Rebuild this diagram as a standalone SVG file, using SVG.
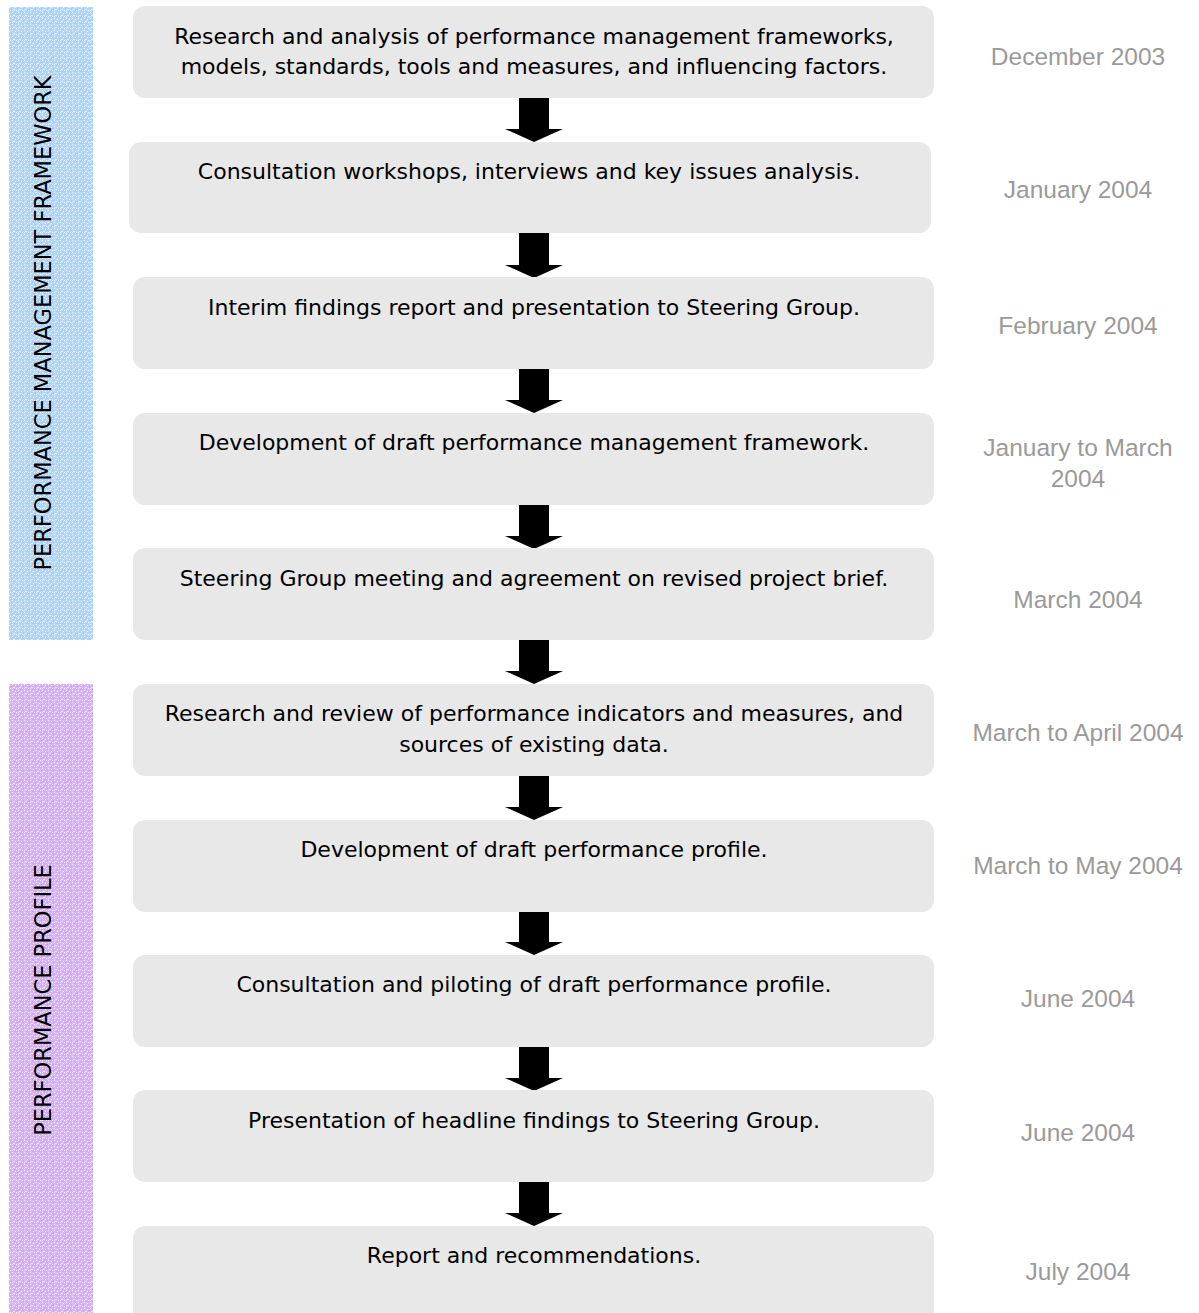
<svg xmlns="http://www.w3.org/2000/svg" width="1199" height="1313" viewBox="0 0 1199 1313">
<style>
.box{fill:#e8e8e8}
.t{font-family:"DejaVu Sans",sans-serif;font-size:22px;fill:#000;text-anchor:middle}
.d{font-family:"Liberation Sans",Arial,sans-serif;font-size:24.5px;fill:#9a9a9a;text-anchor:middle}
.v{font-family:"DejaVu Sans",sans-serif;font-size:22.5px;fill:#000;text-anchor:middle}
.arr{fill:#000}
</style>
<defs>
<pattern id="pb" width="6" height="6" patternUnits="userSpaceOnUse">
<rect width="6" height="6" fill="#b4d7f8"/>
<rect x="0" y="0" width="1" height="1" fill="#eef6ff"/>
<rect x="3" y="1" width="1" height="1" fill="#ffffff"/>
<rect x="1" y="3" width="2" height="1" fill="#dcedff"/>
<rect x="4" y="4" width="1" height="1" fill="#ffffff"/>
<rect x="5" y="2" width="1" height="1" fill="#98c8f4"/>
<rect x="2" y="5" width="1" height="1" fill="#98c8f4"/>
<rect x="0" y="4" width="1" height="1" fill="#e6f2ff"/>
</pattern>
<pattern id="pp" width="6" height="6" patternUnits="userSpaceOnUse">
<rect width="6" height="6" fill="#d8b4f6"/>
<rect x="0" y="0" width="1" height="1" fill="#f6eeff"/>
<rect x="3" y="1" width="1" height="1" fill="#ffffff"/>
<rect x="1" y="3" width="2" height="1" fill="#eddcff"/>
<rect x="4" y="4" width="1" height="1" fill="#ffffff"/>
<rect x="5" y="2" width="1" height="1" fill="#c698f2"/>
<rect x="2" y="5" width="1" height="1" fill="#c698f2"/>
<rect x="0" y="4" width="1" height="1" fill="#f0e6ff"/>
</pattern>
<path id="arrow" d="M519,0 H549 V33 H563 L534,46 L505,33 H519 Z"/>
</defs>

<g id="phase-framework">
<rect x="9" y="7" width="84" height="633" fill="url(#pb)"/>
<text class="v" transform="translate(51,323) rotate(-90)">PERFORMANCE MANAGEMENT FRAMEWORK</text>
</g>
<g id="phase-profile">
<rect x="9" y="684" width="84" height="629" fill="url(#pp)"/>
<text class="v" transform="translate(51,1000) rotate(-90)">PERFORMANCE PROFILE</text>
</g>

<g id="connectors" class="arr">
<use href="#arrow" y="96"/>
<use href="#arrow" y="232"/>
<use href="#arrow" y="367"/>
<use href="#arrow" y="503"/>
<use href="#arrow" y="638"/>
<use href="#arrow" y="774"/>
<use href="#arrow" y="909"/>
<use href="#arrow" y="1045"/>
<use href="#arrow" y="1180"/>
</g>

<g id="step1"><rect class="box" x="133" y="6" width="801" height="92" rx="12"/>
<text class="t" x="534" y="44">Research and analysis of performance management frameworks,</text>
<text class="t" x="534" y="74">models, standards, tools and measures, and influencing factors.</text>
<text class="d" x="1078" y="65">December 2003</text></g>

<g id="step2"><rect class="box" x="129" y="142" width="802" height="91" rx="12"/>
<text class="t" x="529" y="179">Consultation workshops, interviews and key issues analysis.</text>
<text class="d" x="1078" y="198">January 2004</text></g>

<g id="step3"><rect class="box" x="133" y="277" width="801" height="92" rx="12"/>
<text class="t" x="534" y="315">Interim findings report and presentation to Steering Group.</text>
<text class="d" x="1078" y="334">February 2004</text></g>

<g id="step4"><rect class="box" x="133" y="413" width="801" height="92" rx="12"/>
<text class="t" x="534" y="450">Development of draft performance management framework.</text>
<text class="d" x="1078" y="456">January to March</text>
<text class="d" x="1078" y="487">2004</text></g>

<g id="step5"><rect class="box" x="133" y="548" width="801" height="92" rx="12"/>
<text class="t" x="534" y="586">Steering Group meeting and agreement on revised project brief.</text>
<text class="d" x="1078" y="608">March 2004</text></g>

<g id="step6"><rect class="box" x="133" y="684" width="801" height="92" rx="12"/>
<text class="t" x="534" y="721">Research and review of performance indicators and measures, and</text>
<text class="t" x="534" y="752">sources of existing data.</text>
<text class="d" x="1078" y="741">March to April 2004</text></g>

<g id="step7"><rect class="box" x="133" y="820" width="801" height="92" rx="12"/>
<text class="t" x="534" y="857">Development of draft performance profile.</text>
<text class="d" x="1078" y="874">March to May 2004</text></g>

<g id="step8"><rect class="box" x="133" y="955" width="801" height="92" rx="12"/>
<text class="t" x="534" y="992">Consultation and piloting of draft performance profile.</text>
<text class="d" x="1078" y="1007">June 2004</text></g>

<g id="step9"><rect class="box" x="133" y="1090" width="801" height="92" rx="12"/>
<text class="t" x="534" y="1128">Presentation of headline findings to Steering Group.</text>
<text class="d" x="1078" y="1141">June 2004</text></g>

<g id="step10"><rect class="box" x="133" y="1226" width="801" height="100" rx="12"/>
<text class="t" x="534" y="1263">Report and recommendations.</text>
<text class="d" x="1078" y="1280">July 2004</text></g>
</svg>
